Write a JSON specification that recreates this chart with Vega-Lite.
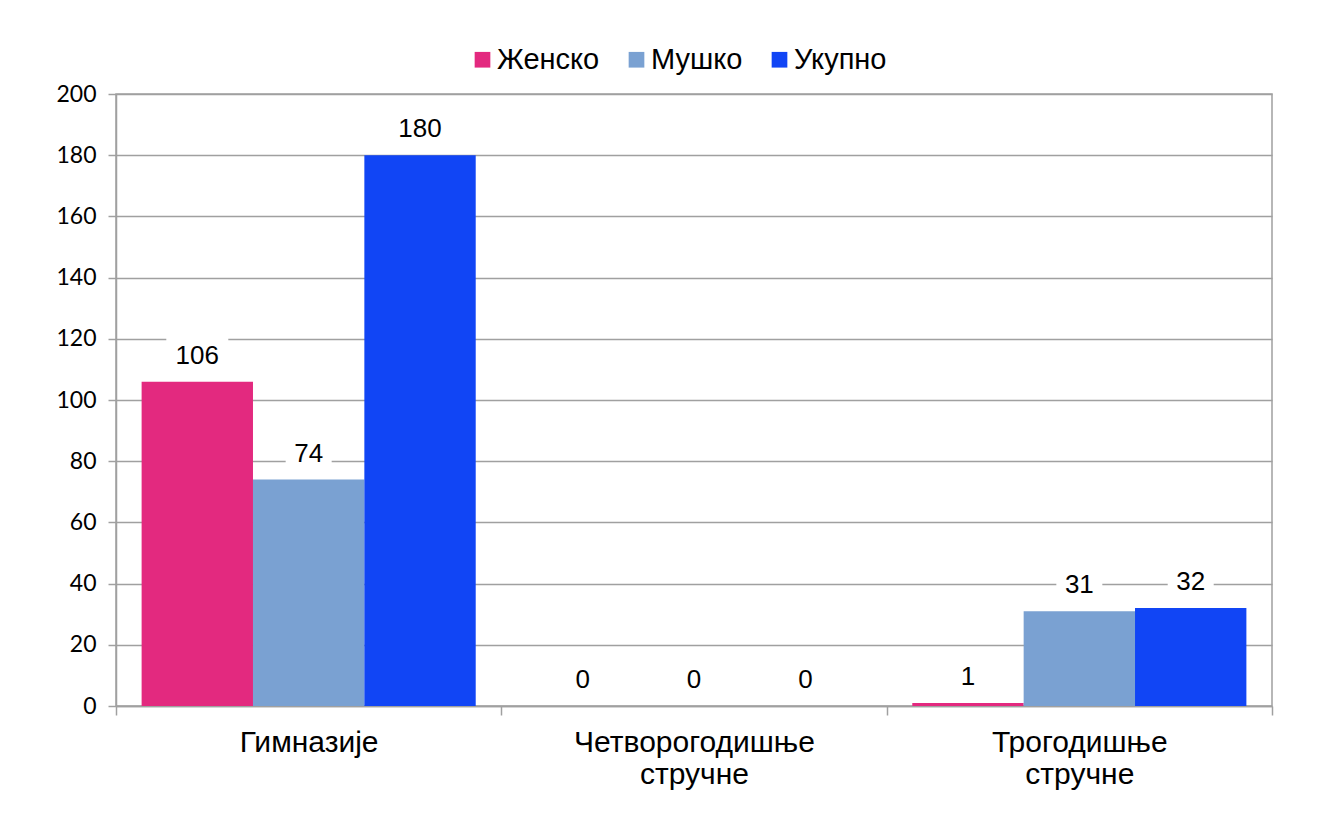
{
  "$schema": "https://vega.github.io/schema/vega-lite/v6.json",
  "width": 1156,
  "height": 612,
  "autosize": {"type": "none"},
  "padding": {"left": 116, "top": 94, "right": 55, "bottom": 130},
  "background": "white",
  "config": {
    "view": {"stroke": "#A0A0A0", "strokeWidth": 1.5},
    "font": "Liberation Sans"
  },
  "data": {
    "values": [
      {"type": "Гимназије", "sex": "Женско", "value": 106},
      {"type": "Гимназије", "sex": "Мушко", "value": 74},
      {"type": "Гимназије", "sex": "Укупно", "value": 180},
      {"type": "Четворогодишње стручне", "sex": "Женско", "value": 0},
      {"type": "Четворогодишње стручне", "sex": "Мушко", "value": 0},
      {"type": "Четворогодишње стручне", "sex": "Укупно", "value": 0},
      {"type": "Трогодишње стручне", "sex": "Женско", "value": 1},
      {"type": "Трогодишње стручне", "sex": "Мушко", "value": 31},
      {"type": "Трогодишње стручне", "sex": "Укупно", "value": 32}
    ]
  },
  "encoding": {
    "x": {
      "field": "type",
      "type": "nominal",
      "sort": ["Гимназије", "Четворогодишње стручне", "Трогодишње стручне"],
      "scale": {"paddingInner": 0, "paddingOuter": 0},
      "axis": {
        "title": null,
        "labelAngle": 0,
        "labelFont": "Liberation Sans",
        "labelFontSize": 30,
        "labelColor": "black",
        "labelExpr": "split(datum.label, ' ')",
        "labelLineHeight": 32,
        "labelLimit": 0,
        "labelPadding": 12,
        "tickBand": "extent",
        "tickSize": 9,
        "tickColor": "#A0A0A0",
        "tickWidth": 1.5,
        "domainColor": "#A0A0A0",
        "domainWidth": 1.5,
        "grid": false
      }
    },
    "xOffset": {
      "field": "sex",
      "sort": ["Женско", "Мушко", "Укупно"],
      "scale": {"paddingInner": 0, "paddingOuter": 0.23}
    },
    "y": {
      "field": "value",
      "type": "quantitative",
      "scale": {"domain": [0, 200], "nice": false},
      "axis": {
        "title": null,
        "values": [0, 20, 40, 60, 80, 100, 120, 140, 160, 180, 200],
        "labelFont": "Lato",
        "labelFontSize": 23,
        "labelColor": "black",
        "labelPadding": 12,
        "tickSize": 8,
        "tickColor": "#A0A0A0",
        "tickWidth": 1.5,
        "domainColor": "#A0A0A0",
        "domainWidth": 1.5,
        "grid": true,
        "gridColor": "#A0A0A0",
        "gridWidth": 1.5
      }
    }
  },
  "layer": [
    {
      "mark": {"type": "bar"},
      "encoding": {
        "color": {
          "field": "sex",
          "type": "nominal",
          "sort": ["Женско", "Мушко", "Укупно"],
          "scale": {
            "domain": ["Женско", "Мушко", "Укупно"],
            "range": ["#E3297F", "#7AA1D2", "#1145F5"]
          },
          "legend": {
            "title": null,
            "orient": "none",
            "legendX": 352,
            "legendY": -49,
            "direction": "horizontal",
            "symbolType": "square",
            "symbolSize": 246,
            "symbolStrokeWidth": 0,
            "labelFont": "Liberation Sans",
            "labelFontSize": 29,
            "labelColor": "black",
            "labelOffset": 0,
            "columnPadding": 22,
            "padding": 0
          }
        }
      }
    },
    {
      "transform": [{"filter": "datum.value >= 100"}],
      "mark": {"type": "point", "shape": "M-1,-0.613H1V0.613H-1Z", "filled": true, "color": "white", "opacity": 1, "size": 3844, "yOffset": -26}
    },
    {
      "transform": [{"filter": "datum.value >= 10 && datum.value < 100"}],
      "mark": {"type": "point", "shape": "M-1,-0.826H1V0.826H-1Z", "filled": true, "color": "white", "opacity": 1, "size": 2116, "yOffset": -26}
    },
    {
      "transform": [{"filter": "datum.value < 10"}],
      "mark": {"type": "point", "shape": "M-1,-1.19H1V1.19H-1Z", "filled": true, "color": "white", "opacity": 1, "size": 1024, "yOffset": -26}
    },
    {
      "mark": {"type": "text", "fontSize": 26, "font": "Liberation Sans", "color": "black", "baseline": "middle", "dy": -26},
      "encoding": {"text": {"field": "value", "type": "quantitative"}}
    }
  ]
}
